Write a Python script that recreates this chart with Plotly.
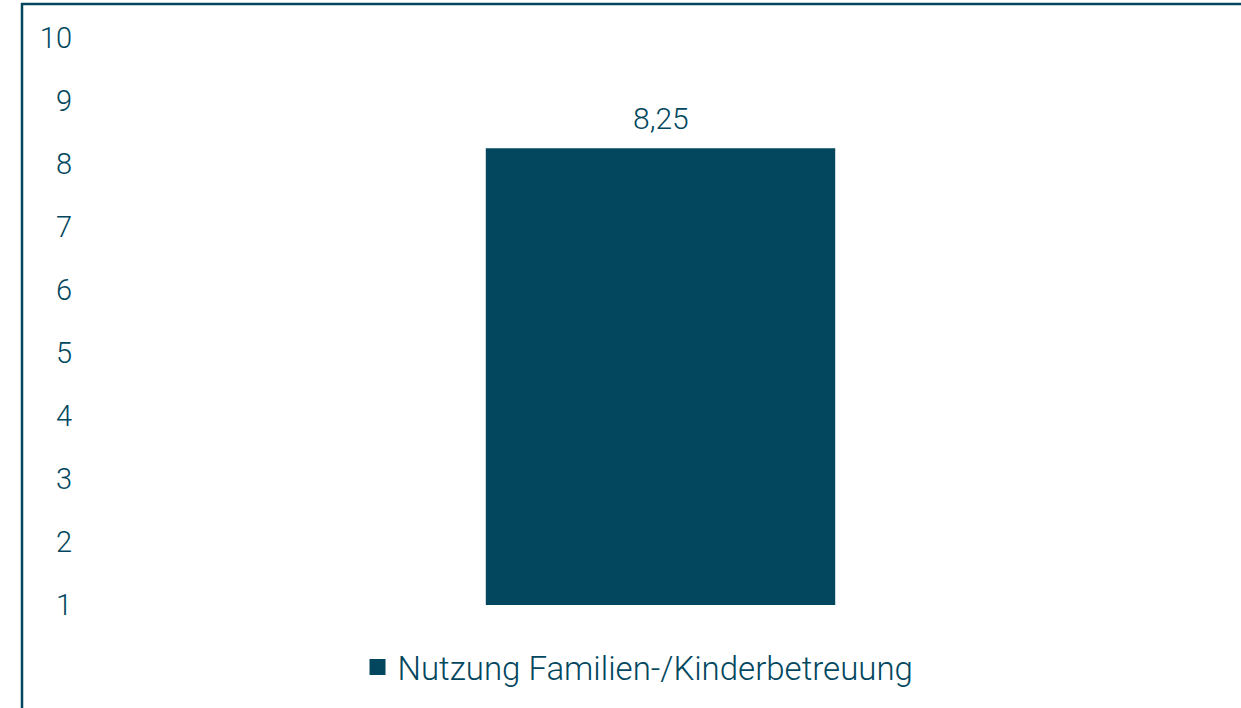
import plotly.graph_objects as go

categories = ["Nutzung Familien-/Kinderbetreuung"]
values = [8.25]
value_labels = ["8,25"]
tick_vals = [1, 2, 3, 4, 5, 6, 7, 8, 9, 10]
tick_text = ["1", "2", "3", "4", "5", "6", "7", "8", "9", "10"]

COLOR = "#02475e"
FONT = "Roboto"

W, H = 1241, 708
L, R, T, B = 82, 2, 38, 103
pw, ph = W - L - R, H - T - B

fig = go.Figure()
fig.add_trace(go.Bar(
    x=categories, y=values, name=categories[0],
    marker=dict(color=COLOR, line=dict(width=0)),
    cliponaxis=False, width=0.302, showlegend=False,
))
# legend proxy with a larger square symbol
fig.add_trace(go.Scatter(
    x=[None], y=[None], mode="markers", name=categories[0],
    marker=dict(symbol="square", size=18, color=COLOR), showlegend=True,
))

for cat, val, lab in zip(categories, values, value_labels):
    fig.add_annotation(x=cat, y=val, text=lab, showarrow=False,
                       yanchor="middle", yshift=30,
                       font=dict(family=FONT, size=30, color=COLOR, weight=300))

def px_x(p):
    return (p - L) / pw

def px_y(p):
    return (H - B - p) / ph

fig.update_layout(
    width=W, height=H,
    margin=dict(l=L, r=R, t=T, b=B, pad=0),
    paper_bgcolor="white", plot_bgcolor="white",
    font=dict(family=FONT, color=COLOR, size=30, weight=300),
    xaxis=dict(showticklabels=False, showgrid=False, zeroline=False, showline=False, ticks=""),
    yaxis=dict(range=[1, 10], tickvals=tick_vals, ticktext=tick_text,
               showgrid=False, zeroline=False, showline=False, ticks="",
               tickfont=dict(family=FONT, size=29, color=COLOR, weight=300), ticklabelstandoff=9),
    showlegend=True,
    legend=dict(orientation="h", x=px_x(638), xanchor="center", y=px_y(667), yanchor="middle",
                font=dict(family=FONT, size=33, color=COLOR, weight=300), bgcolor="rgba(0,0,0,0)"),
    shapes=[
        dict(type="line", xref="paper", yref="paper", x0=px_x(22), x1=px_x(22), y0=px_y(3), y1=px_y(712),
             line=dict(color=COLOR, width=2.5)),
        dict(type="line", xref="paper", yref="paper", x0=px_x(21), x1=px_x(1245), y0=px_y(4), y1=px_y(4),
             line=dict(color=COLOR, width=2.5)),
    ],
)

fig.write_html(
    "out.html",
    config={"displayModeBar": False},
    post_script="document.body.style.margin='0';document.body.style.overflow='hidden';",
)
